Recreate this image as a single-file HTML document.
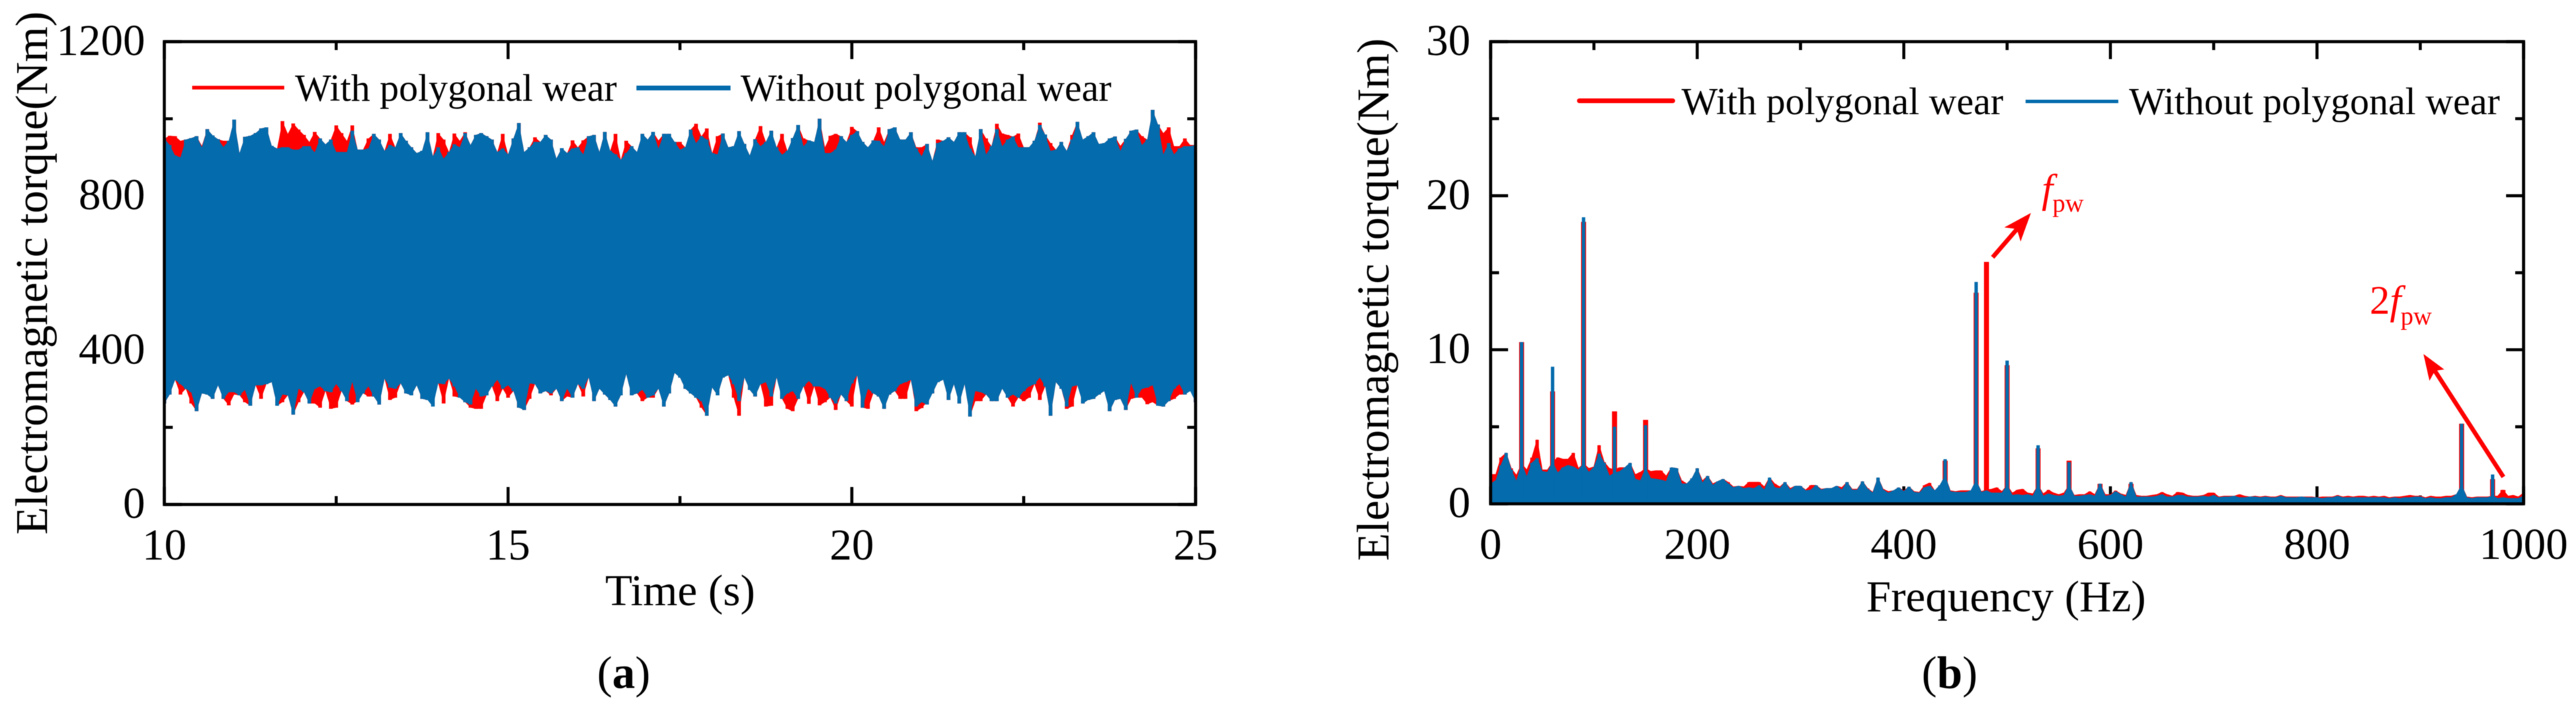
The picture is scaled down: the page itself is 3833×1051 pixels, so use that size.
<!DOCTYPE html>
<html lang="en">
<head>
<meta charset="utf-8">
<title>Electromagnetic torque with and without polygonal wear</title>
<style>
html,body{margin:0;padding:0;background:#fff;}
svg{display:block;filter:blur(0.6px);}
text{font-family:"Liberation Serif","Times New Roman",serif;fill:#000;}
</style>
</head>
<body>
<svg id="figure" xmlns="http://www.w3.org/2000/svg" width="3833" height="1051" viewBox="0 0 3833 1051">
  <rect x="0" y="0" width="3833" height="1051" fill="#fff"/>
  <defs>
    <clipPath id="clipA"><rect x="244.5" y="62" width="1534.5" height="689"/></clipPath>
    <clipPath id="clipB"><rect x="2218" y="62" width="1537" height="688"/></clipPath>
  </defs>
  <g id="panelA"></g>
  <g id="panelB"></g>

  <g>
    <line x1="286" y1="130.5" x2="423" y2="130.5" stroke="#ff0000" stroke-width="5.5"/>
    <text x="439" y="150" font-size="57">With polygonal wear</text>
    <line x1="947" y1="131" x2="1087" y2="131" stroke="#046bac" stroke-width="7"/>
    <text x="1102" y="150" font-size="57">Without polygonal wear</text>
  </g>
  <g>
    <line x1="2350" y1="150" x2="2489" y2="150" stroke="#ff0000" stroke-width="7" stroke-linecap="round"/>
    <text x="2502" y="170" font-size="57">With polygonal wear</text>
    <line x1="3014" y1="151" x2="3152" y2="151" stroke="#046bac" stroke-width="5"/>
    <text x="3168" y="170" font-size="57">Without polygonal wear</text>
  </g>

  <g>
    <line x1="2965" y1="383" x2="3003" y2="339" stroke="#ff0000" stroke-width="6.5"/>
    <polygon points="3022,317 3006.6,359.5 3001,341 2982.4,338.5" fill="#ff0000"/>
    <text x="3038" y="301" font-size="60" font-style="italic" style="fill:#ff0000">f</text>
    <text x="3054" y="315" font-size="38" style="fill:#ff0000">pw</text>
  </g>
  <g>
    <line x1="3725" y1="710" x2="3623" y2="552" stroke="#ff0000" stroke-width="6.5"/>
    <polygon points="3606,527 3637,550 3623,552 3615,567" fill="#ff0000"/>
    <text x="3526" y="467" font-size="60" style="fill:#ff0000">2<tspan font-style="italic">f</tspan></text>
    <text x="3572" y="483" font-size="38" style="fill:#ff0000">pw</text>
  </g>

  <text x="928" y="1024" font-size="68" text-anchor="middle">(<tspan font-weight="bold">a</tspan>)</text>
  <text x="2901" y="1024" font-size="68" text-anchor="middle">(<tspan font-weight="bold">b</tspan>)</text>
</svg>

<script>
// ---- Panel (a): torque envelope (Nm), evenly spaced from 10 s to 25 s ----
const timeTicksMajor = [10, 15, 20, 25];
const timeTicksMinor = [12.5, 17.5, 22.5];
const torqueTicksMajor = [0, 400, 800, 1200];
const torqueTicksMinor = [200, 600, 1000];

const withWearUpper = [
949,956,955,943,946,950,955,930,973,957,
947,943,943,998,911,953,956,963,975,978,
930,923,994,961,988,972,958,940,966,949,
934,946,983,963,943,983,920,920,949,961,
946,917,961,926,963,943,926,911,917,965,
903,963,946,914,962,943,965,932,958,963,
955,946,914,961,908,949,989,914,926,952,
940,958,946,897,924,911,944,926,944,955,
958,914,966,917,961,894,943,929,914,961,
946,966,944,961,961,940,940,926,
972,987,955,975,911,955,962,926,929,968,
935,905,947,981,940,969,926,961,917,950,
984,949,944,940,1000,926,956,961,955,940,
979,968,940,926,944,978,940,973,978,946,
946,965,926,926,935,891,946,943,952,940,
965,965,952,903,973,949,929,987,962,958,
954,962,926,926,943,990,959,937,920,940,
917,958,992,946,955,965,935,937,949,954,
930,948,969,972,955,946,1023,985,963,978,
929,929,949,932,932];

const withoutWearUpper = [
949,932,905,900,946,950,955,926,973,957,
947,927,943,998,911,953,956,963,975,978,
930,923,926,926,920,920,929,929,913,949,
934,946,914,914,914,969,920,920,923,961,
946,917,932,926,963,943,926,911,917,965,
903,926,897,914,934,926,963,932,958,963,
955,946,914,923,908,949,989,914,926,940,
940,958,946,897,924,911,923,926,908,955,
958,914,966,917,908,894,911,929,914,961,
946,966,923,961,961,940,920,926,
972,937,955,946,911,908,962,926,929,968,
935,905,947,929,940,969,926,907,917,950,
984,929,944,940,1000,911,911,920,955,940,
958,968,940,926,944,943,929,973,978,946,
946,965,923,903,935,891,937,943,952,940,
965,965,923,903,973,908,929,973,929,946,
954,926,926,926,943,984,959,917,920,940,
917,946,992,946,955,965,935,937,949,954,
917,948,969,972,932,946,1023,985,908,937,
908,923,929,929,932];

const withoutWearLower = [
262,285,323,312,300,291,242,288,285,274,
309,274,291,291,283,297,256,309,309,312,
317,256,285,283,233,300,291,262,300,306,
294,291,312,294,268,317,265,288,306,280,
259,326,303,300,314,288,283,309,274,271,
254,314,312,326,306,277,265,259,300,280,
283,306,323,300,309,294,251,245,314,312,
288,294,288,300,268,300,277,312,300,329,
268,300,285,271,254,283,338,283,288,297,
277,283,300,254,288,341,329,300,
288,277,268,230,303,283,329,335,312,268,
329,297,280,312,317,280,329,274,288,294,
274,306,320,306,306,300,277,262,285,268,
314,335,251,300,288,280,248,285,294,312,
317,323,254,265,259,288,317,323,271,312,
262,312,228,294,291,285,268,268,300,277,
285,277,294,306,312,329,306,230,317,300,
254,306,309,262,271,274,285,294,242,271,
274,245,314,277,300,303,309,256,254,268,
300,312,285,294,265];

const withWearLower = [
262,285,323,285,300,262,242,288,285,274,
309,274,257,285,283,265,256,309,274,312,
317,256,265,283,233,265,291,262,262,251,
294,248,251,294,268,259,268,288,280,280,
259,326,271,277,314,288,283,309,274,271,
280,314,262,326,280,277,265,251,248,248,
283,306,268,300,277,294,251,245,274,312,
288,294,283,300,268,280,277,312,280,329,
268,300,285,271,254,283,338,283,288,268,
277,277,300,254,288,341,329,300,
288,277,251,230,303,283,329,335,277,230,
329,297,280,312,254,256,329,274,248,242,
274,306,261,306,257,265,277,245,285,268,
254,335,251,248,288,280,248,285,294,274,
274,323,242,250,265,288,317,323,271,312,
262,312,228,268,268,285,268,268,300,277,
254,277,268,277,312,271,306,230,317,300,
248,254,309,262,271,274,285,294,242,271,
274,245,274,277,277,260,265,256,254,268,
274,285,285,297,265];

// ---- Panel (b): spectrum (Nm) ----
const freqTicksMajor = [0, 200, 400, 600, 800, 1000];
const freqTicksMinor = [100, 300, 500, 700, 900];
const spectrumTicksMajor = [0, 10, 20, 30];
const spectrumTicksMinor = [5, 15, 25];

const floorStepHz = 5;
const floorWithoutWear = [
1.3,1.5,2.5,3.3,2.2,1.45,2.6,1.75,2.65,2.95,
2.1,2.05,2.7,2.0,2.35,2.5,2.4,2.2,2.6,2.05,
2.35,3.25,2.65,1.8,2.0,2.1,2.35,2.65,1.6,1.5,
2.3,1.65,1.6,1.55,1.45,2.35,2.3,1.3,1.3,1.65,
2.3,1.35,1.8,1.2,1.45,1.6,1.3,1.05,1.15,1.0,
1.05,1.0,1.2,.9,1.7,1.05,1.0,1.4,.9,1.15,
1.15,.85,.9,1.2,.9,1.0,1.0,1.15,.9,1.4,
.9,.9,1.45,.95,.7,1.7,.9,.7,.85,1.05,
.8,1.1,.75,.7,1.05,1.15,.85,1.2,1.8,.8,
.75,.75,.75,.85,1.5,.75,.85,.7,.7,.7,
1.2,.55,.6,.55,.6,.5,1.2,.5,.65,.55,
.5,.55,1.2,.5,.5,.55,.6,.5,1.3,.5,
.55,.8,.6,.45,1.4,.45,.45,.45,.45,.5,
.6,.45,.45,.55,.55,.45,.45,.45,.5,.45,
.55,.4,.45,.45,.5,.4,.4,.45,.45,.4,
.45,.4,.4,.5,.4,.4,.4,.45,.4,.4,
.4,.35,.4,.4,.5,.4,.4,.4,.4,.4,
.4,.4,.4,.4,.35,.4,.35,.4,.4,.45,
.45,.35,.4,.35,.35,.4,.4,.6,1.2,.4,
.35,.4,.4,.4,.5,.35,.4,.35,.35,.35,
.5];
const floorWithWear = [
1.9,1.9,3.0,3.3,2.3,1.85,2.6,2.2,3.0,4.15,
2.2,2.2,2.7,3.0,2.9,2.9,3.3,2.3,2.6,2.3,
2.4,3.8,2.7,2.3,2.2,2.35,2.35,2.65,1.9,2.05,
2.3,2.1,2.15,2.15,1.8,2.35,2.3,1.5,1.3,1.65,
2.3,1.5,1.8,1.3,1.45,1.6,1.4,1.1,1.15,1.1,
1.4,1.4,1.4,1.1,1.7,1.3,1.1,1.4,1.0,1.15,
1.15,.9,1.2,1.2,.95,1.0,1.0,1.15,1.05,1.4,
.95,.95,1.45,1.0,.75,1.7,.95,.8,.85,1.05,
.85,1.1,.8,.75,1.2,1.35,.85,1.2,1.8,.85,
.8,.85,.85,.85,1.5,.8,.9,.95,1.05,.8,
1.2,.7,.9,.95,.7,.65,1.2,.65,.9,.7,
.6,.7,1.2,.55,.6,.6,.8,.6,1.3,.6,
.6,.85,.65,.55,1.4,.55,.5,.5,.55,.6,
.75,.6,.5,.75,.7,.55,.5,.5,.55,.7,
.7,.45,.5,.5,.5,.6,.5,.45,.5,.45,
.5,.45,.45,.55,.45,.45,.45,.45,.45,.45,
.4,.45,.45,.45,.55,.45,.5,.45,.5,.5,
.45,.5,.45,.5,.4,.45,.45,.5,.55,.5,
.5,.4,.5,.45,.45,.5,.5,.6,1.2,.45,
.4,.45,.45,.45,.5,.5,.9,.5,.55,.45,
.7];

const peakFreqHz = [30,60,90,120,150,440,470,480,500,530,560,590,620,940,970,980];
const peakWithWear = [10.5,7.3,18.3,6.0,5.45,2.8,13.7,15.7,9.0,3.6,2.8,1.3,1.3,5.2,1.6,0.9];
const peakWithoutWear = [10.5,8.9,18.6,5.0,5.1,2.9,14.4,0,9.3,3.8,2.7,1.0,1.1,5.2,1.9,0.4];

const RED = '#ff0000';
const BLUE = '#046bac';
const SVGNS = 'http://www.w3.org/2000/svg';

function make(parent, tag, attrs) {
  const el = document.createElementNS(SVGNS, tag);
  for (const k in attrs) el.setAttribute(k, attrs[k]);
  parent.appendChild(el);
  return el;
}

// axis scale helpers
function linear(d0, d1, r0, r1) {
  return function (v) { return r0 + (v - d0) * (r1 - r0) / (d1 - d0); };
}

function drawTicks(g, box, x, y, xMaj, xMin, yMaj, yMin) {
  const MAJ = 26, MIN = 12.5;
  function v(list, len, prefix) {
    list.forEach(function (t) {
      const a = make(g, 'line', {x1: x(t), x2: x(t), y1: box.bottom, y2: box.bottom - len, stroke: '#000', 'stroke-width': 4.5});
      
      
      const b = make(g, 'line', {x1: x(t), x2: x(t), y1: box.top, y2: box.top + len, stroke: '#000', 'stroke-width': 4.5});
      
      
    });
  }
  function h(list, len, prefix) {
    list.forEach(function (t) {
      const a = make(g, 'line', {x1: box.left, x2: box.left + len, y1: y(t), y2: y(t), stroke: '#000', 'stroke-width': 4.5});
      
      
      const b = make(g, 'line', {x1: box.right, x2: box.right - len, y1: y(t), y2: y(t), stroke: '#000', 'stroke-width': 4.5});
      
      
    });
  }
  v(xMaj, MAJ, 'x-major'); v(xMin, MIN, 'x-minor');
  h(yMaj, MAJ, 'y-major'); h(yMin, MIN, 'y-minor');
}

function drawFrame(g, box) {
  const f = make(g, 'rect', {x: box.left, y: box.top, width: box.right - box.left, height: box.bottom - box.top, fill: 'none', stroke: '#000', 'stroke-width': 4.5});
  
  
}

function drawLabels(g, x, y, xMaj, yMaj, yRight, xBase) {
  xMaj.forEach(function (t) {
    const el = make(g, 'text', {x: x(t), y: xBase, 'font-size': 66, 'text-anchor': 'middle'});
    el.textContent = String(t);
    
    
  });
  yMaj.forEach(function (t) {
    const el = make(g, 'text', {x: yRight, y: y(t) + 20, 'font-size': 66, 'text-anchor': 'end'});
    el.textContent = String(t);
    
    
  });
}

// ---------- Panel (a) ----------
(function () {
  const g = document.getElementById('panelA');
  const box = {left: 244.5, right: 1779, top: 62, bottom: 751};
  const x = linear(10, 25, box.left, box.right);
  const y = linear(0, 1200, box.bottom, box.top);
  drawTicks(g, box, x, y, timeTicksMajor, timeTicksMinor, torqueTicksMajor, torqueTicksMinor);

  // narrow vertical spikes at each sample
  function envelope(lower, upper) {
    const dt = 15 / (upper.length - 1);
    let d = '';
    upper.forEach(function (u, i) {
      const px = x(10 + i * dt).toFixed(1);
      d += 'M' + px + ' ' + y(u).toFixed(1) + 'V' + y(lower[i]).toFixed(1);
    });
    return d;
  }
  // polygon through upper then lower samples, so the notches between spikes stay filled
  function body(lower, upper) {
    const dt = 15 / (upper.length - 1);
    let d = '';
    upper.forEach(function (u, i) {
      d += (i ? 'L' : 'M') + x(10 + i * dt).toFixed(1) + ' ' + y(u).toFixed(1);
    });
    for (let i = lower.length - 1; i >= 0; i--) {
      d += 'L' + x(10 + i * dt).toFixed(1) + ' ' + y(lower[i]).toFixed(1);
    }
    return d + 'Z';
  }
  const plot = make(g, 'g', {'clip-path': 'url(#clipA)'});
  
  

  const redBody = make(plot, 'path', {d: body(withWearLower, withWearUpper), fill: RED});
  
  
  const red = make(plot, 'path', {d: envelope(withWearLower, withWearUpper), stroke: RED, 'stroke-width': 5.5, fill: 'none'});
  
  
  const blueBody = make(plot, 'path', {d: body(withoutWearLower, withoutWearUpper), fill: BLUE});
  
  
  const blue = make(plot, 'path', {d: envelope(withoutWearLower, withoutWearUpper), stroke: BLUE, 'stroke-width': 5.5, fill: 'none'});
  
  

  drawFrame(g, box);
  drawLabels(g, x, y, timeTicksMajor, torqueTicksMajor, 216, 833);

  const xt = make(g, 'text', {x: 1012, y: 901, 'font-size': 66, 'text-anchor': 'middle'});
  xt.textContent = 'Time (s)';
  
  
  const yt = make(g, 'text', {transform: 'translate(70,406.5) rotate(-90)', 'font-size': 68, 'text-anchor': 'middle', textLength: 779, lengthAdjust: 'spacing'});
  yt.textContent = 'Electromagnetic torque(Nm)';
  
  
})();

// ---------- Panel (b) ----------
(function () {
  const g = document.getElementById('panelB');
  const box = {left: 2218, right: 3755, top: 62, bottom: 750};
  const x = linear(0, 1000, box.left, box.right);
  const y = linear(0, 30, box.bottom, box.top);
  drawTicks(g, box, x, y, freqTicksMajor, freqTicksMinor, spectrumTicksMajor, spectrumTicksMinor);

  function area(values) {
    let d = 'M' + x(0) + ' ' + y(0);
    values.forEach(function (v, i) {
      d += 'L' + x(i * floorStepHz).toFixed(1) + ' ' + y(v).toFixed(1);
    });
    return d + 'L' + x((values.length - 1) * floorStepHz).toFixed(1) + ' ' + y(0) + 'Z';
  }
  function floorBars(values) {
    let d = '';
    values.forEach(function (v, i) {
      d += 'M' + x(i * floorStepHz).toFixed(1) + ' ' + y(0) + 'V' + y(v).toFixed(1);
    });
    return d;
  }
  function spikes(values) {
    let d = '';
    values.forEach(function (v, i) {
      if (v > 0) d += 'M' + x(peakFreqHz[i]).toFixed(1) + ' ' + y(0) + 'V' + y(v).toFixed(1);
    });
    return d;
  }
  const plot = make(g, 'g', {'clip-path': 'url(#clipB)'});
  
  

  const redFloor = make(plot, 'path', {d: area(floorWithWear), fill: RED, stroke: RED, 'stroke-width': 1, 'stroke-linejoin': 'round'});
  
  
  const redBars = make(plot, 'path', {d: floorBars(floorWithWear), stroke: RED, 'stroke-width': 5, fill: 'none'});
  
  
  const redPeaks = make(plot, 'path', {d: spikes(peakWithWear), stroke: RED, 'stroke-width': 7.5, fill: 'none'});
  
  
  const blueFloor = make(plot, 'path', {d: area(floorWithoutWear), fill: BLUE, stroke: BLUE, 'stroke-width': 1, 'stroke-linejoin': 'round'});
  
  
  const blueBars = make(plot, 'path', {d: floorBars(floorWithoutWear), stroke: BLUE, 'stroke-width': 5, fill: 'none'});
  
  
  const bluePeaks = make(plot, 'path', {d: spikes(peakWithoutWear), stroke: BLUE, 'stroke-width': 5, fill: 'none'});
  
  

  drawFrame(g, box);
  drawLabels(g, x, y, freqTicksMajor, spectrumTicksMajor, 2188, 832);

  const xt = make(g, 'text', {x: 2985, y: 910, 'font-size': 66, 'text-anchor': 'middle'});
  xt.textContent = 'Frequency (Hz)';
  
  
  const yt = make(g, 'text', {transform: 'translate(2066,446) rotate(-90)', 'font-size': 68, 'text-anchor': 'middle', textLength: 778, lengthAdjust: 'spacing'});
  yt.textContent = 'Electromagnetic torque(Nm)';
  
  
})();
</script>
</body>
</html>
